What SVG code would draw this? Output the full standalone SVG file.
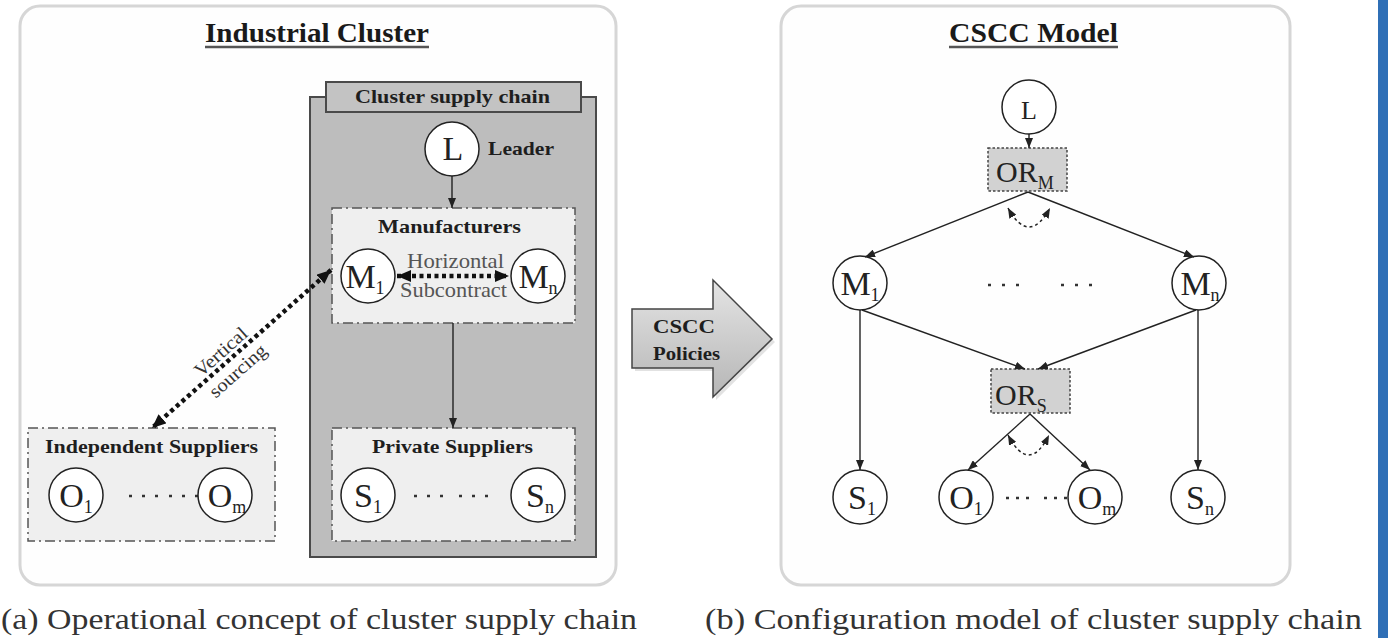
<svg xmlns="http://www.w3.org/2000/svg" width="1388" height="638" viewBox="0 0 1388 638">
<style>
text{font-family:'Liberation Serif','Times New Roman',Times,serif}
.panel{fill:#fefefe;stroke:#d6d6d6;stroke-width:3}
.title{font-weight:bold;font-size:28px;fill:#1a1a1a}
.lbl{font-weight:bold;font-size:19px;fill:#1e1e1e}
.gtxt{font-size:21px;fill:#555}
.vtxt{font-size:19px;fill:#333}
.cap{font-size:29px;fill:#333}
.circ{fill:#fff;stroke:#222;stroke-width:1.5}
.ntxt{font-size:34px;fill:#222}
.sub{font-size:18px}
.box{fill:#efefef;stroke:#555;stroke-width:1.5;stroke-dasharray:10 4 2 4}
.or{fill:#d2d2d2;stroke:#444;stroke-width:1.5;stroke-dasharray:2.5 2}
.ortxt{font-size:30px;fill:#222}
.ln{stroke:#222;stroke-width:1.4;fill:none}
.dash{stroke:#222;stroke-width:1.5;fill:none;stroke-dasharray:3 3}
.dots{stroke:#111;stroke-width:4.5;fill:none;stroke-dasharray:4 3.5}
.ell{stroke:#333;stroke-width:2.5;fill:none}
.ul{stroke:#555;stroke-width:2.5}
</style>
<defs>
<marker id="arr" markerUnits="userSpaceOnUse" markerWidth="10" markerHeight="8" refX="10" refY="4" orient="auto-start-reverse">
<path d="M0,0 L10,4 L0,8 z" fill="#222"/>
</marker>
<marker id="big" markerUnits="userSpaceOnUse" markerWidth="14" markerHeight="12" refX="14" refY="6" orient="auto-start-reverse">
<path d="M0,0 L14,6 L0,12 z" fill="#111"/>
</marker>
<linearGradient id="ag" x1="0" y1="0" x2="0" y2="1">
<stop offset="0" stop-color="#e4e4e4"/>
<stop offset="1" stop-color="#b6b6b6"/>
</linearGradient>
</defs>
<rect width="1388" height="638" fill="#fff"/>
<rect x="1378" y="0" width="10" height="638" fill="#2f6fb6"/>

<g id="panel-a">
<rect class="panel" x="20" y="6" width="596" height="579" rx="20"/>
<text class="title" x="205" y="42" textLength="224" lengthAdjust="spacingAndGlyphs">Industrial Cluster</text>
<line class="ul" x1="205" y1="47" x2="429" y2="47"/>
</g>
<g id="panel-b">
<rect class="panel" x="781" y="6" width="509" height="579" rx="20"/>
<text class="title" x="949" y="42" textLength="169" lengthAdjust="spacingAndGlyphs">CSCC Model</text>
<line class="ul" x1="949" y1="47" x2="1118" y2="47"/>
</g>

<g id="cluster-supply-chain">
<rect x="310" y="97" width="286" height="460" fill="#bdbdbd" stroke="#4a4a4a" stroke-width="2"/>
<rect x="326" y="82" width="255" height="30" fill="#c3c3c3" stroke="#4a4a4a" stroke-width="2"/>
<text class="lbl" x="355" y="103" textLength="195" lengthAdjust="spacingAndGlyphs">Cluster supply chain</text>
</g>

<g id="manufacturers">
<rect class="box" x="332" y="208" width="243" height="115"/>
<text class="lbl" x="378" y="233" textLength="143" lengthAdjust="spacingAndGlyphs">Manufacturers</text>
</g>
<g id="private-suppliers">
<rect class="box" x="332" y="428" width="243" height="113"/>
<text class="lbl" x="372" y="453" textLength="161" lengthAdjust="spacingAndGlyphs">Private Suppliers</text>
<line class="ell" x1="414" y1="496" x2="443" y2="496" stroke-dasharray="3 10"/>
<line class="ell" x1="459" y1="496" x2="488" y2="496" stroke-dasharray="3 10"/>
</g>
<g id="independent-suppliers">
<rect class="box" x="28" y="428" width="247" height="113"/>
<text class="lbl" x="45" y="453" textLength="213" lengthAdjust="spacingAndGlyphs">Independent Suppliers</text>
<line class="ell" x1="129" y1="496" x2="158" y2="496" stroke-dasharray="3 10"/>
<line class="ell" x1="169" y1="496" x2="198" y2="496" stroke-dasharray="3 10"/>
</g>

<g id="a-L">
<circle class="circ" cx="452" cy="149" r="27"/>
<text class="ntxt" x="453" y="160" text-anchor="middle">L</text>
<text class="lbl" x="488" y="155" textLength="66" lengthAdjust="spacingAndGlyphs">Leader</text>
</g>
<g id="a-M1">
<circle class="circ" cx="368" cy="276" r="27"/>
<text class="ntxt" x="365" y="288" text-anchor="middle">M<tspan class="sub" dy="6">1</tspan></text>
</g>
<g id="a-Mn">
<circle class="circ" cx="538" cy="276" r="27"/>
<text class="ntxt" x="538" y="288" text-anchor="middle">M<tspan class="sub" dy="6">n</tspan></text>
</g>
<g id="a-O1">
<circle class="circ" cx="76" cy="495" r="27"/>
<text class="ntxt" x="76" y="507" text-anchor="middle">O<tspan class="sub" dy="6">1</tspan></text>
</g>
<g id="a-Om">
<circle class="circ" cx="225" cy="495" r="27"/>
<text class="ntxt" x="227" y="507" text-anchor="middle">O<tspan class="sub" dy="6">m</tspan></text>
</g>
<g id="a-S1">
<circle class="circ" cx="368" cy="495" r="27"/>
<text class="ntxt" x="368" y="507" text-anchor="middle">S<tspan class="sub" dy="6">1</tspan></text>
</g>
<g id="a-Sn">
<circle class="circ" cx="538" cy="495" r="27"/>
<text class="ntxt" x="540" y="507" text-anchor="middle">S<tspan class="sub" dy="6">n</tspan></text>
</g>

<g id="cscc-policies">
<polygon points="635,312 716,312 716,283 775,342 716,400 716,371 635,371" fill="#cfcfcf" opacity="0.6"/>
<polygon points="632,309 713,309 713,280 772,339 713,397 713,368 632,368" fill="url(#ag)" stroke="#444" stroke-width="1.5"/>
<text class="lbl" x="653" y="333" textLength="62" lengthAdjust="spacingAndGlyphs">CSCC</text>
<text class="lbl" x="653" y="360" textLength="67" lengthAdjust="spacingAndGlyphs">Policies</text>
</g>

<g id="b-L">
<circle class="circ" cx="1029" cy="107" r="27"/>
<text class="ntxt" x="1029" y="119" text-anchor="middle" style="font-size:26px">L</text>
</g>
<g id="b-ORM">
<rect class="or" x="988" y="148" width="79" height="43"/>
<text class="ortxt" x="996" y="182">OR<tspan class="sub" dy="7">M</tspan></text>
</g>
<g id="b-M1">
<circle class="circ" cx="860" cy="283" r="27"/>
<text class="ntxt" x="860" y="295" text-anchor="middle">M<tspan class="sub" dy="6">1</tspan></text>
</g>
<g id="b-Mn">
<circle class="circ" cx="1199" cy="283" r="27"/>
<text class="ntxt" x="1200" y="295" text-anchor="middle">M<tspan class="sub" dy="6">n</tspan></text>
</g>
<g id="b-mdots">
<line class="ell" x1="988" y1="285" x2="1019" y2="285" stroke-dasharray="3 11"/>
<line class="ell" x1="1061" y1="285" x2="1092" y2="285" stroke-dasharray="3 11"/>
</g>
<g id="b-ORS">
<rect class="or" x="991" y="369" width="79" height="44"/>
<text class="ortxt" x="995" y="405">OR<tspan class="sub" dy="7">S</tspan></text>
</g>
<g id="b-S1">
<circle class="circ" cx="860" cy="497" r="27"/>
<text class="ntxt" x="862" y="509" text-anchor="middle">S<tspan class="sub" dy="6">1</tspan></text>
</g>
<g id="b-O1">
<circle class="circ" cx="966" cy="497" r="27"/>
<text class="ntxt" x="966" y="509" text-anchor="middle">O<tspan class="sub" dy="6">1</tspan></text>
</g>
<g id="b-Om">
<circle class="circ" cx="1095" cy="497" r="27"/>
<text class="ntxt" x="1097" y="509" text-anchor="middle">O<tspan class="sub" dy="6">m</tspan></text>
</g>
<g id="b-Sn">
<circle class="circ" cx="1198" cy="497" r="27"/>
<text class="ntxt" x="1200" y="509" text-anchor="middle">S<tspan class="sub" dy="6">n</tspan></text>
</g>
<g id="b-odots">
<line class="ell" x1="1006" y1="498" x2="1029" y2="498" stroke-dasharray="3 7"/>
<line class="ell" x1="1044" y1="498" x2="1067" y2="498" stroke-dasharray="3 7"/>
</g>

<g id="connectors">
<line class="ln" x1="452" y1="176" x2="452" y2="208" marker-end="url(#arr)"/>
<line class="ln" x1="453" y1="323" x2="453" y2="428" stroke="#444" stroke-width="2" marker-end="url(#arr)"/>
<line class="dots" x1="397" y1="276" x2="509" y2="276" marker-start="url(#big)" marker-end="url(#big)"/>
<line class="dots" x1="331" y1="270" x2="152" y2="428" marker-start="url(#big)" marker-end="url(#big)"/>
<line class="ln" x1="1029" y1="134" x2="1029" y2="148" marker-end="url(#arr)"/>
<line class="ln" x1="1028" y1="192" x2="865" y2="257" marker-end="url(#arr)"/>
<line class="ln" x1="1028" y1="192" x2="1194" y2="257" marker-end="url(#arr)"/>
<path class="dash" d="M1008,208 Q1029,246 1050,208" marker-start="url(#arr)" marker-end="url(#arr)"/>
<line class="ln" x1="860" y1="310" x2="860" y2="470" marker-end="url(#arr)"/>
<line class="ln" x1="1198" y1="310" x2="1198" y2="470" marker-end="url(#arr)"/>
<line class="ln" x1="862" y1="310" x2="1025" y2="369" marker-end="url(#arr)"/>
<line class="ln" x1="1196" y1="310" x2="1038" y2="369" marker-end="url(#arr)"/>
<line class="ln" x1="1030" y1="414" x2="968" y2="470" marker-end="url(#arr)"/>
<line class="ln" x1="1030" y1="414" x2="1090" y2="470" marker-end="url(#arr)"/>
<path class="dash" d="M1008,435 Q1029,475 1049,435" marker-start="url(#arr)" marker-end="url(#arr)"/>
</g>

<g id="labels">
<text class="gtxt" x="407" y="268" textLength="97" lengthAdjust="spacingAndGlyphs">Horizontal</text>
<text class="gtxt" x="400" y="297" textLength="107" lengthAdjust="spacingAndGlyphs">Subcontract</text>
<text class="vtxt" x="221" y="358" text-anchor="middle" textLength="64" lengthAdjust="spacingAndGlyphs" transform="rotate(-41.6 221 352)">Vertical</text>
<text class="vtxt" x="238" y="377" text-anchor="middle" textLength="70" lengthAdjust="spacingAndGlyphs" transform="rotate(-41.6 238 371)">sourcing</text>
</g>

<text class="cap" x="1" y="629" textLength="636" lengthAdjust="spacingAndGlyphs">(a) Operational concept of cluster supply chain</text>
<text class="cap" x="705" y="629" textLength="657" lengthAdjust="spacingAndGlyphs">(b) Configuration model of cluster supply chain</text>
</svg>
